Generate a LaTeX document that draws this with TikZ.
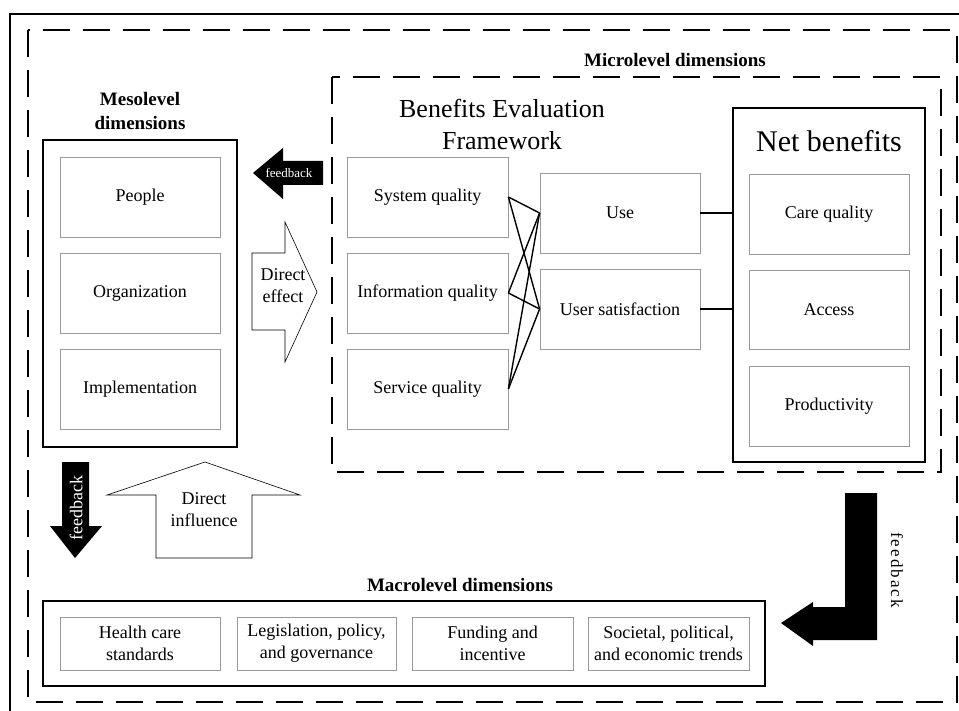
\documentclass[tikz,border=0pt]{standalone}
\usepackage{fontspec}
\setmainfont{Liberation Serif}

\begin{document}
\begin{tikzpicture}[x=1pt,y=-1pt,
  frame/.style={draw,line width=1.5pt,minimum width=#1},
  frame/.default=160pt,
  inbox/.style={draw=black!40,line width=.8pt,minimum width=160pt,minimum height=80pt,
    align=center,font=\fontsize{18}{22}\selectfont},
  lowbox/.style={inbox,minimum height=53pt},
  head/.style={font=\fontsize{19}{24}\selectfont\bfseries,align=center,inner sep=0pt},
  title/.style={font=\fontsize{26}{32}\selectfont,align=center,inner sep=0pt},
  dashline/.style={line width=1.8pt,dash pattern=on 27pt off 13pt},
  link/.style={line width=1.4pt},
  fatarrow/.style={fill=black},
  openarrow/.style={draw,line width=.6pt,fill=white}]
\useasboundingbox (0,0) rectangle (959,711);

% frames
\draw[line width=1.4pt] (10,711) -- (10,14) -- (959,14);
\draw[dashline] (28,30) rectangle (957,702);
\draw[dashline] (332,77) rectangle (941,472);

% titles
\node[head] (microtitle) at (675,60) {Microlevel dimensions};
\node[head] (mesotitle) at (140,111) {Mesolevel\\dimensions};
\node[head] (macrotitle) at (460,585) {Macrolevel dimensions};
\node[title] (beftitle) at (502,124) {Benefits Evaluation\\Framework};

% mesolevel
\node[frame, minimum width=194pt, minimum height=307pt] (meso) at (140,293.5) {};
\node[inbox] (people) at (140,197) {People};
\node[inbox] (org) at (140,293) {Organization};
\node[inbox] (impl) at (140,389) {Implementation};

% benefits evaluation framework
\node[inbox, minimum width=161pt] (sys) at (427.5,197) {System quality};
\node[inbox, minimum width=161pt] (info) at (427.5,293) {Information quality};
\node[inbox, minimum width=161pt] (serv) at (427.5,389) {Service quality};
\node[inbox] (use) at (620,213) {Use};
\node[inbox] (usat) at (620,309) {User satisfaction};

% net benefits
\node[frame, minimum width=192pt, minimum height=354pt] (net) at (829,285) {};
\node[title, font=\fontsize{30}{34}\selectfont] (nettitle) at (829,141) {Net benefits};
\node[inbox] (care) at (829,214) {Care quality};
\node[inbox, minimum height=79pt] (access) at (829,309.5) {Access};
\node[inbox] (prod) at (829,406) {Productivity};

% macrolevel
\node[frame, minimum width=722pt, minimum height=85pt] (macro) at (404,643.5) {};
\node[lowbox] (health) at (140,643.5) {Health care\\standards};
\node[lowbox, minimum width=159pt] (legis) at (316.5,643.5) {Legislation, policy,\\and governance};
\node[lowbox, minimum width=161pt] (fund) at (492.5,643.5) {Funding and\\incentive};
\node[lowbox, minimum width=161pt] (soc) at (668.5,643.5) {Societal, political,\\and economic trends};

% links
\foreach \a in {sys,info,serv}
  \foreach \b in {use,usat}
    \draw[link] (\a.east) -- (\b.west);
\draw[link] (use.east) -- (net.west |- use.east);
\draw[link] (usat.east) -- (net.west |- usat.east);

% arrows
\fill[fatarrow] (253,173) -- (283,148) -- (283,161) -- (323,161) -- (323,185)
  -- (283,185) -- (283,199) -- cycle;
\node[text=white, font=\fontsize{13}{15}\selectfont] (fbmeso) at (289,173) {feedback};

\draw[openarrow] (252,253) -- (285,253) -- (285,222) -- (317,292) -- (285,362)
  -- (285,330) -- (252,330) -- cycle;
\node[align=center, font=\fontsize{18}{22}\selectfont, inner sep=0pt] (effect) at (283,286) {Direct\\effect};

\fill[fatarrow] (62,462) -- (89,462) -- (89,526) -- (102,526) -- (75,558)
  -- (50,526) -- (62,526) -- cycle;
\node[text=white, rotate=90, font=\fontsize{18}{20}\selectfont, inner sep=0pt] (fbdown) at (76,508) {feedback};

\draw[openarrow] (156,558) -- (156,495) -- (107,495) -- (205,462) -- (300,495)
  -- (252,495) -- (252,558) -- cycle;
\node[align=center, font=\fontsize{18}{22}\selectfont, inner sep=0pt] (influence) at (204,510) {Direct\\influence};

\fill[fatarrow] (845,493) -- (877,493) -- (877,640) -- (813,640) -- (813,646)
  -- (781,623) -- (813,602) -- (813,607) -- (845,607) -- cycle;
\node[rotate=-90, font=\fontsize{17}{20}\selectfont\addfontfeature{LetterSpace=12}, inner sep=0pt] (fbmacro) at (897,570) {feedback};
\end{tikzpicture}
\end{document}
